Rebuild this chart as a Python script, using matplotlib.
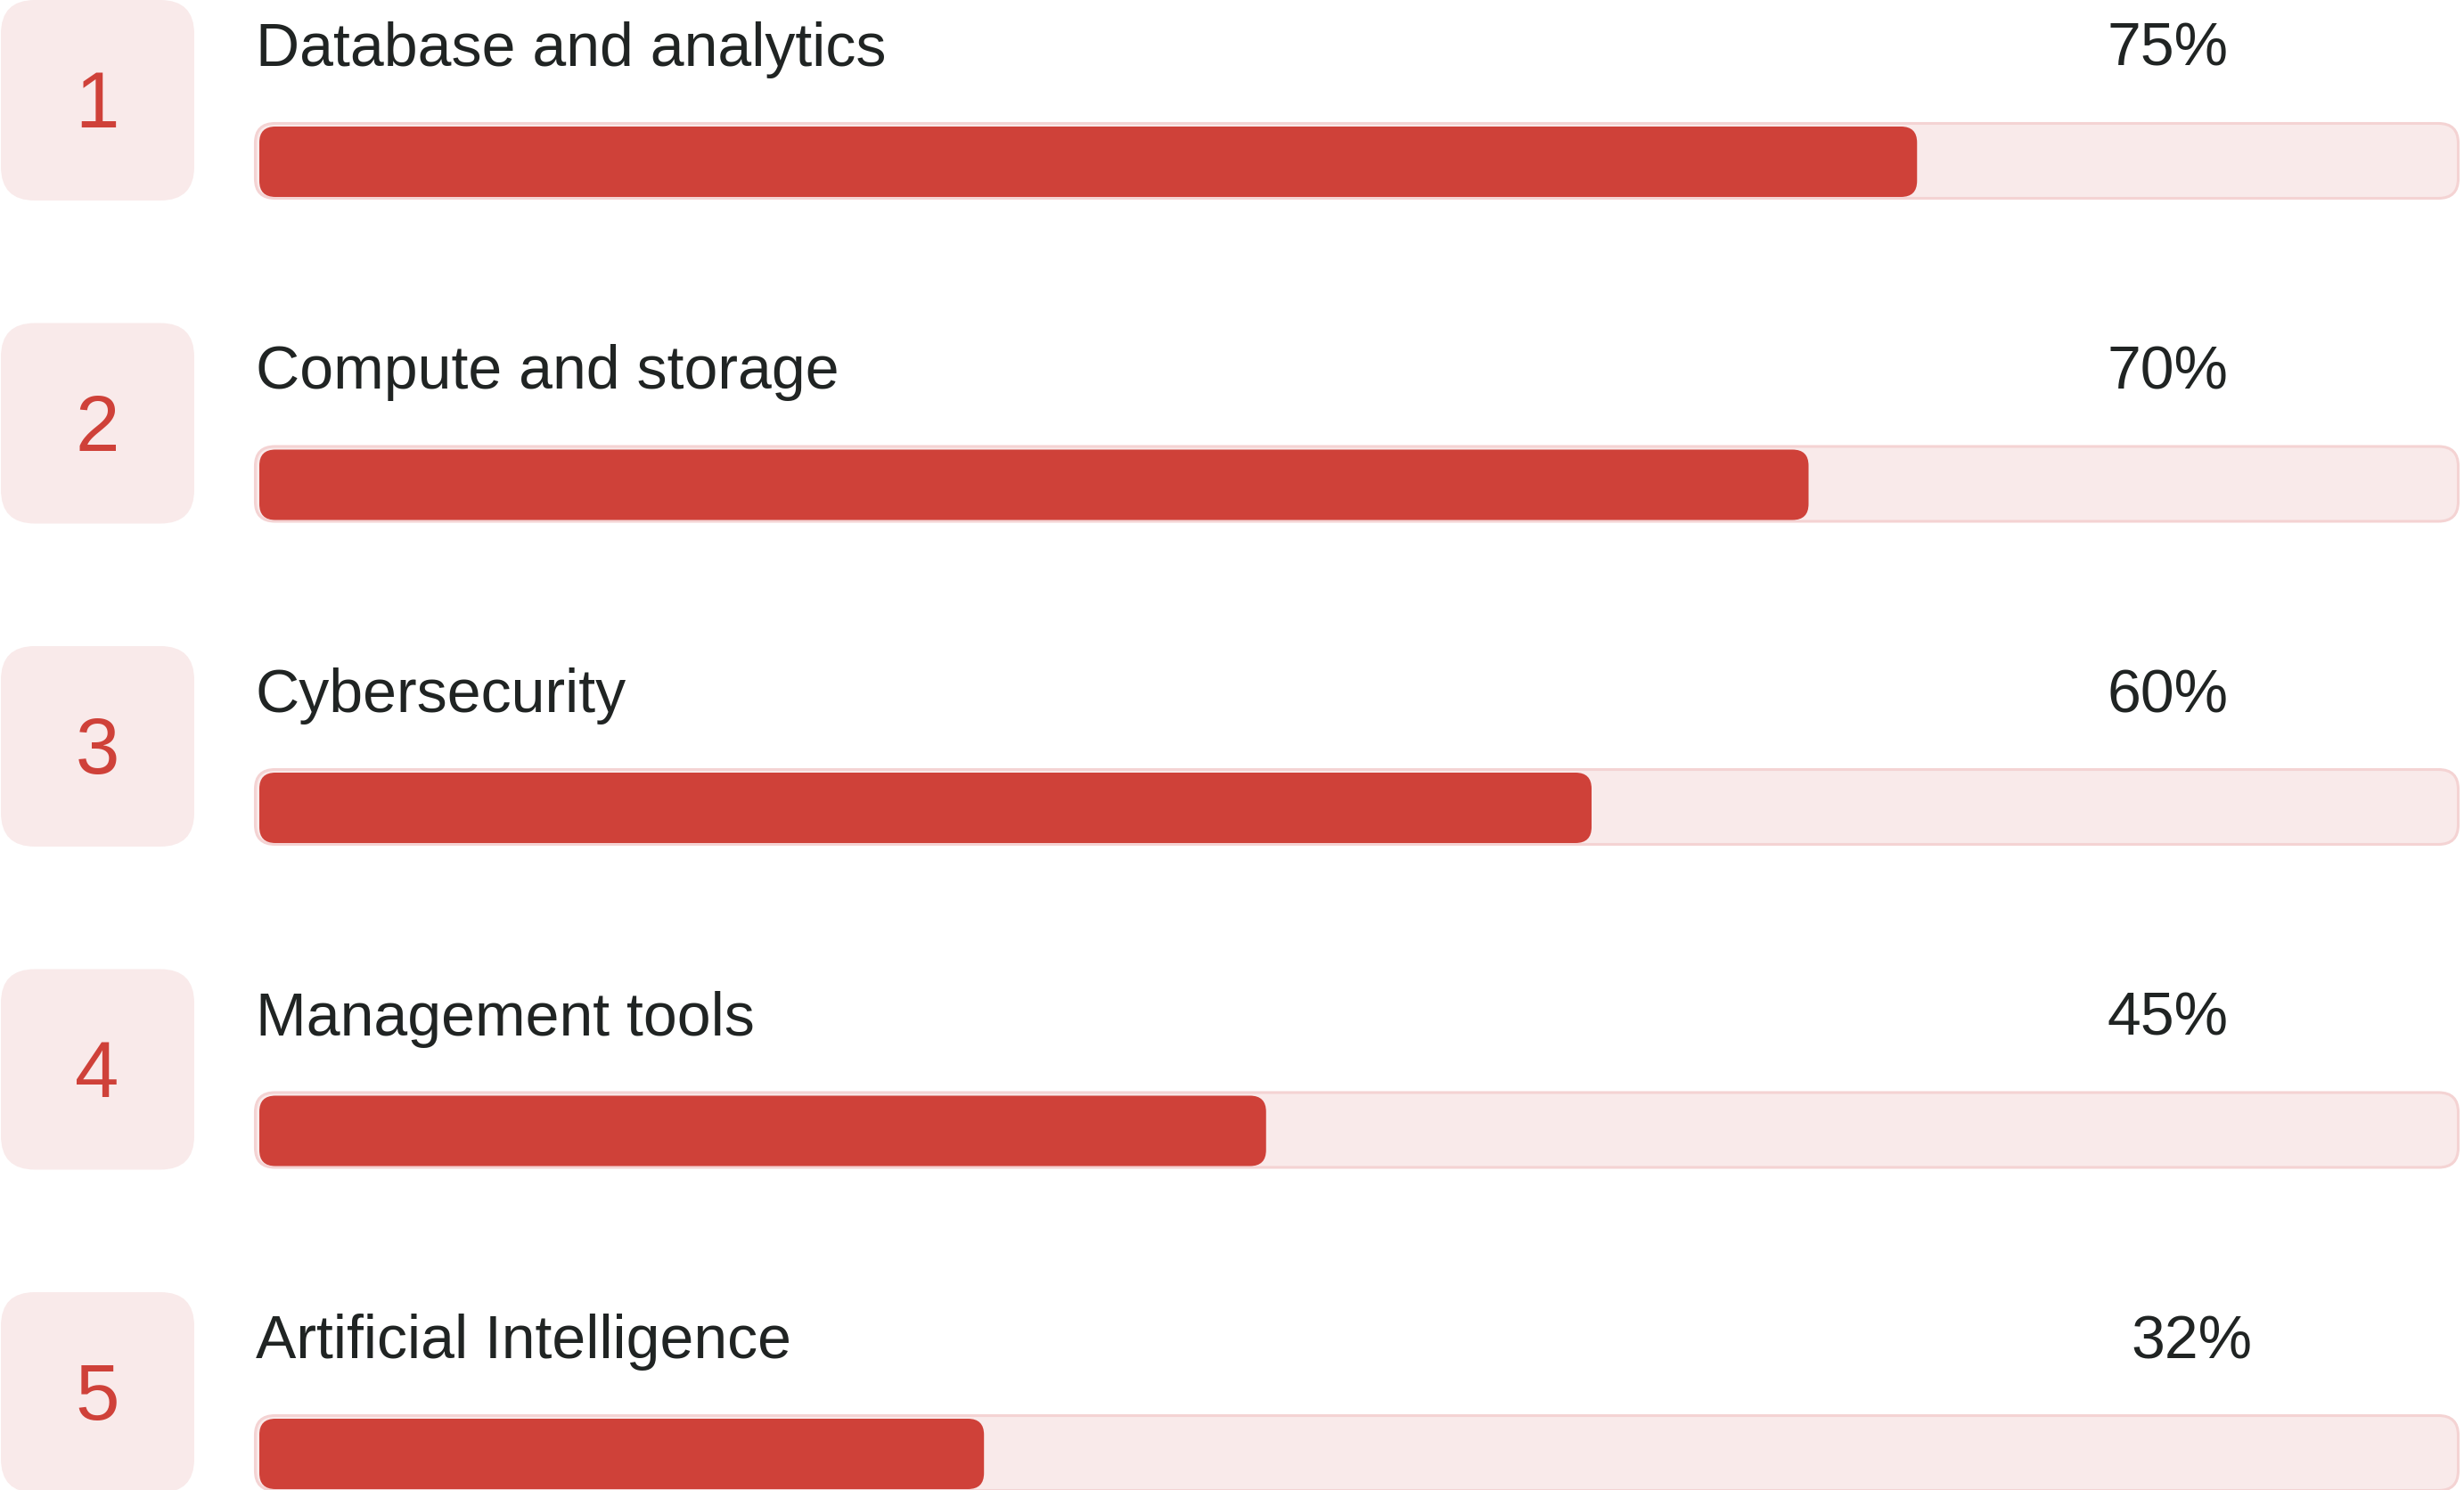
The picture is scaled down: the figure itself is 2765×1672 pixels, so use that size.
import matplotlib
matplotlib.use("Agg")
import matplotlib.pyplot as plt
from matplotlib.patches import FancyBboxPatch

plt.rcParams['font.family'] = ['Liberation Sans', 'DejaVu Sans']

# data
ranks = ["1", "2", "3", "4", "5"]
categories = ["Database and analytics", "Compute and storage", "Cybersecurity",
              "Management tools", "Artificial Intelligence"]
values = [75, 70, 60, 45, 32]

RED = "#cf4139"
PINK = "#f9eaea"
EDGE = "#f4d3d3"
TXT = "#202423"

W, H = 2765, 1672
ROW = 362.5          # pixels per row
X0, PXU = 325, 24.35  # pixel of 0 %, pixels per 1 %

def px2x(p):
    return (p - X0) / PXU

def py(p):
    return p / ROW

fig = plt.figure(figsize=(W / 100, H / 100), dpi=100)
ax = fig.add_axes([0, 0, 1, 1])
ax.set_xlim(px2x(0), px2x(W))
ax.set_ylim(H / ROW, 0)
ax.axis("off")
asp = PXU / ROW

def rbox(x0, y0, x1, y1, r, **kw):
    p = FancyBboxPatch((x0, y0), x1 - x0, y1 - y0,
                       boxstyle="round,pad=0,rounding_size=%f" % r,
                       mutation_aspect=asp, **kw)
    ax.add_patch(p)

for i, (rk, cat, v) in enumerate(zip(ranks, categories, values)):
    # number badge
    rbox(px2x(1), i, px2x(218), i + py(225), 38 / PXU, fc=PINK, ec="none")
    ax.text(px2x(109), i + py(143), rk, ha="center", va="baseline",
            fontsize=64, color=RED)
    # label and percent
    ax.text(px2x(287), i + py(74), cat, ha="left", va="baseline",
            fontsize=49, color=TXT)
    xr = 2527 if i == 4 else 2500
    ax.text(px2x(xr), i + py(74), "%d%%" % v, ha="right", va="baseline",
            fontsize=49, color=TXT)
    # track
    rbox(px2x(286.5), i + py(138.5), 100 - 1.5 / PXU, i + py(222.5), 22 / PXU,
         fc=PINK, ec=EDGE, lw=2.2)
    # value bar
    rbox(px2x(291), i + py(142), v, i + py(221), 18 / PXU, fc=RED, ec="none")

fig.savefig("out.png", dpi=100)
